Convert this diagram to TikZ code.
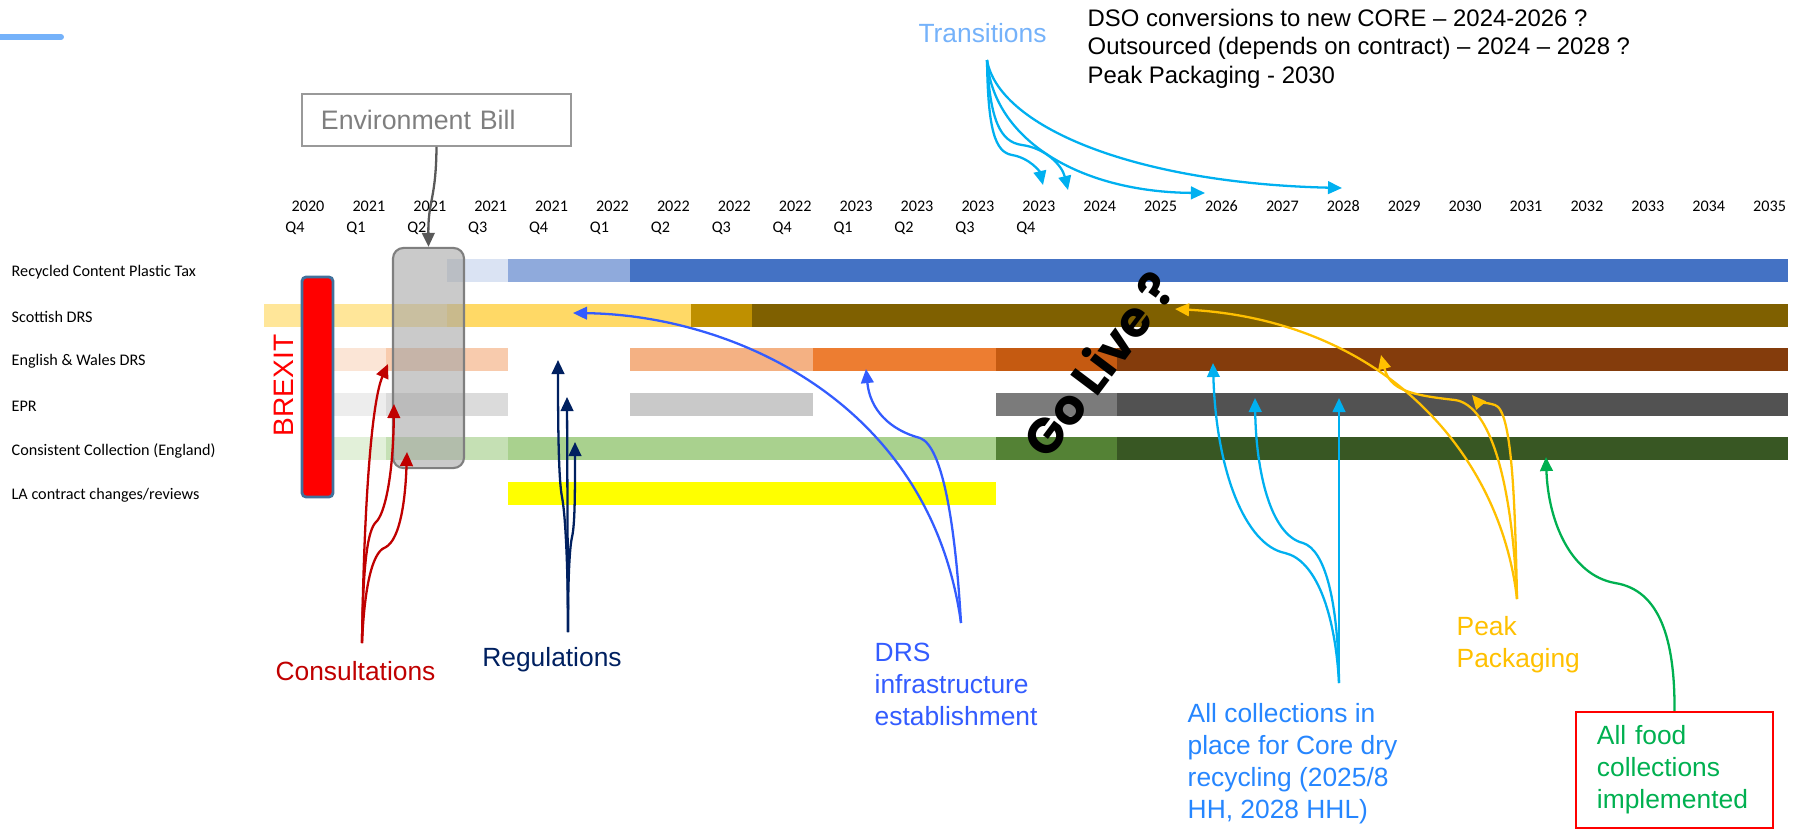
\documentclass[tikz,border=0pt]{standalone}
\usepackage{fontspec}
\setmainfont{Liberation Sans}
\newfontfamily\calibrifont{Carlito}
\newfontfamily\golivefont{Poppins}
\usetikzlibrary{arrows.meta}

\definecolor{transblue}{RGB}{117,178,250}
\definecolor{consred}{HTML}{C00000}
\definecolor{regnavy}{HTML}{002060}
\definecolor{drsblue}{RGB}{51,92,255}
\definecolor{collblue}{RGB}{38,134,255}
\definecolor{cyanarr}{HTML}{00B0F0}
\definecolor{peakgold}{HTML}{FFC000}
\definecolor{foodgreen}{HTML}{00B050}
\definecolor{envgrey}{HTML}{7F7F7F}
\definecolor{arrgrey}{HTML}{595959}
\definecolor{holdgrey}{HTML}{A6A6A6}
\definecolor{brexborder}{HTML}{41719C}
% bar colours, one set per row
\definecolor{rtaxA}{HTML}{DAE3F3}\definecolor{rtaxB}{HTML}{8FAADC}\definecolor{rtaxC}{HTML}{4472C4}
\definecolor{sdrsA}{HTML}{FFE699}\definecolor{sdrsB}{HTML}{FFD966}\definecolor{sdrsC}{HTML}{BF9000}\definecolor{sdrsD}{HTML}{7F6000}
\definecolor{edrsA}{HTML}{FBE5D6}\definecolor{edrsB}{HTML}{F8CBAD}\definecolor{edrsC}{HTML}{F4B183}
\definecolor{edrsD}{HTML}{ED7D31}\definecolor{edrsE}{HTML}{C55A11}\definecolor{edrsF}{HTML}{843C0C}
\definecolor{eprA}{HTML}{EDEDED}\definecolor{eprB}{HTML}{DBDBDB}\definecolor{eprC}{HTML}{C9C9C9}
\definecolor{eprD}{HTML}{7B7B7B}\definecolor{eprE}{HTML}{525252}
\definecolor{cceA}{HTML}{E2F0D9}\definecolor{cceB}{HTML}{C5E0B4}\definecolor{cceC}{HTML}{A9D18E}
\definecolor{cceD}{HTML}{548235}\definecolor{cceE}{HTML}{385723}
\definecolor{lacA}{HTML}{FFFF00}

\begin{document}
\begin{tikzpicture}[x=0.01cm,y=-0.01cm,>={Triangle[length=4pt,width=3.6pt]},
    row label/.style={anchor=west,inner sep=0pt,font=\calibrifont\fontsize{4.6}{5.5}\selectfont},
    axis label/.style={inner sep=0pt,font=\calibrifont\fontsize{4.6}{5.5}\selectfont},
    call out/.style={inner sep=0pt,align=left,font=\fontsize{7.5}{9.1}\selectfont},
    link/.style={->,line width=0.65pt}]

  \useasboundingbox (0,0) rectangle (1806,833);

  \draw[transblue,line width=1.7pt,line cap=round] (-10,37) -- (61,37);

  % time axis
  \foreach \yr [count=\i from 0] in {2020,2021,2021,2021,2021,2022,2022,2022,2022,2023,2023,2023,2023,
      2024,2025,2026,2027,2028,2029,2030,2031,2032,2033,2034,2035}
    \node[axis label] (yr\i) at ({308+60.9*\i},206) {\yr};
  \foreach \qu [count=\i from 0] in {Q4,Q1,Q2,Q3,Q4,Q1,Q2,Q3,Q4,Q1,Q2,Q3,Q4}
    \node[axis label] (q\i) at ({295+60.9*\i},228) {\qu};

  % rows
  \foreach \txt [count=\r] in {Recycled Content Plastic Tax,Scottish DRS,English \& Wales DRS,EPR,
      Consistent Collection (England),LA contract changes/reviews}
    \node[row label] (row\r) at (11,{272.5+44.6*(\r-1)}) {\txt};

  \foreach \r/\a/\b/\c in {1/0/1/rtaxA,1/1/3/rtaxB,1/3/22/rtaxC,
      2/-3/0/sdrsA,2/0/4/sdrsB,2/4/5/sdrsC,2/5/22/sdrsD,
      3/-2/-1/edrsA,3/-1/1/edrsB,3/3/6/edrsC,3/6/9/edrsD,3/9/11/edrsE,3/11/22/edrsF,
      4/-2/-1/eprA,4/-1/1/eprB,4/3/6/eprC,4/9/11/eprD,4/11/22/eprE,
      5/-2/-1/cceA,5/-1/1/cceB,5/1/9/cceC,5/9/11/cceD,5/11/22/cceE,
      6/1/9/lacA}
    \fill[\c] ({447+60.95*\a},{259+44.6*(\r-1)}) rectangle ({447+60.95*\b},{282+44.6*(\r-1)});

  \node[draw=brexborder,fill=red,line width=0.8pt,rounded corners=1.2pt,inner sep=0pt,
    minimum width=0.31cm,minimum height=2.2cm] (brexit) at (317.5,387) {};
  \node[red,rotate=90,inner sep=0pt,font=\fontsize{8}{9.6}\selectfont] (brexitlab) at (283.5,385.5) {BREXIT};

  \node[draw=envgrey,line width=0.6pt,fill=holdgrey,fill opacity=0.6,rounded corners=3pt,inner sep=0pt,
    minimum width=0.71cm,minimum height=2.2cm] (hold) at (428.5,358) {};

  \node[draw=envgrey!80,line width=0.5pt,text=envgrey,font=\fontsize{7.6}{9}\selectfont,align=left,
    minimum width=2.69cm,minimum height=0.52cm,text width=2.31cm,inner xsep=0.19cm] (envbill) at (436.5,120) {Environment Bill};
  \draw[link,arrgrey] (envbill.south) .. controls (436,200) and (428,200) .. (hold.north);

  % transitions
  \node[call out,transblue] (trans) at (982.5,33) {Transitions};
  \node[inner sep=0pt,anchor=north west,align=left,font=\fontsize{6.8}{8.1}\selectfont] (note) at (1087,8)
    {DSO conversions to new CORE – 2024-2026 ?\\Outsourced (depends on contract) – 2024 – 2028 ?\\Peak Packaging - 2030};
  \coordinate (tr0) at (987,60);
  \coordinate (trA) at (1043,185);
  \coordinate (trB) at (1068,190);
  \coordinate (trC) at (1205,193);
  \coordinate (trD) at (1342,188);
  \draw[link,cyanarr] (tr0) .. controls (988,130) and (995,152) .. (1012,155) .. controls (1030,158) and (1040,172) .. (trA);
  \draw[link,cyanarr] (tr0) .. controls (990,120) and (1000,142) .. (1022,145) .. controls (1045,148) and (1062,165) .. (trB);
  \draw[link,cyanarr] (tr0) .. controls (993,140) and (1080,192) .. (trC);
  \draw[link,cyanarr] (tr0) .. controls (998,125) and (1130,183) .. (trD);

  \node[rotate=53,inner sep=0pt,font=\golivefont\bfseries\fontsize{14}{16}\selectfont] (golive) at (1098,364) {Go Live ?};

  % consultations
  \node[call out,consred] (cons) at (355.5,671) {Consultations};
  \coordinate (cs0) at (362,643);
  \coordinate (csA) at (388,364);
  \coordinate (csB) at (394,404);
  \coordinate (csC) at (407,452);
  \draw[link,consred] (cs0) .. controls (364,500) and (372,400) .. (csA);
  \draw[link,consred] (cs0) .. controls (363,560) and (368,530) .. (376,522) .. controls (384,515) and (393,480) .. (csB);
  \draw[link,consred] (cs0) .. controls (365,575) and (375,550) .. (386,547) .. controls (398,540) and (405,510) .. (csC);

  % regulations
  \node[call out,regnavy] (regs) at (552,660) {Regulations};
  \coordinate (rg0) at (568,632);
  \coordinate (rgA) at (558,360);
  \coordinate (rgB) at (567,397);
  \coordinate (rgC) at (575,442);
  \draw[link,regnavy] (rg0) .. controls (568,560) and (565,512) .. (562,497) .. controls (559,482) and (558,440) .. (rgA);
  \draw[link,regnavy] (rg0) -- (rgB);
  \draw[link,regnavy] (rg0) .. controls (568,570) and (570,546) .. (572,537) .. controls (575,525) and (575,490) .. (rgC);

  % DRS infrastructure
  \node[call out,drsblue,anchor=west] (drs) at (874,684) {DRS\\infrastructure\\establishment};
  \coordinate (ds0) at (961,623);
  \coordinate (dsA) at (573,313);
  \coordinate (dsB) at (866,369);
  \draw[link,drsblue] (ds0) .. controls (930,400) and (730,315) .. (dsA);
  \draw[link,drsblue] (ds0) .. controls (955,520) and (942,446) .. (920,438) .. controls (890,430) and (870,410) .. (dsB);

  % core dry recycling
  \node[call out,collblue,anchor=west] (coll) at (1187,764) {All collections in\\place for Core dry\\recycling (2025/8\\HH, 2028 HHL)};
  \coordinate (ac0) at (1339,683);
  \coordinate (acA) at (1213,363);
  \coordinate (acB) at (1255,398);
  \coordinate (acC) at (1339,398);
  \draw[link,cyanarr] (ac0) .. controls (1335,610) and (1315,560) .. (1285,553) .. controls (1245,545) and (1216,470) .. (acA);
  \draw[link,cyanarr] (ac0) .. controls (1338,600) and (1325,550) .. (1303,543) .. controls (1270,535) and (1256,470) .. (acB);
  \draw[link,cyanarr] (ac0) -- (acC);

  % peak packaging
  \node[call out,peakgold,anchor=west] (peak) at (1456,645) {Peak\\Packaging};
  \coordinate (pk0) at (1517,599);
  \coordinate (pkA) at (1175,309);
  \coordinate (pkB) at (1381,355);
  \coordinate (pkC) at (1472,395);
  \draw[link,peakgold] (pk0) .. controls (1500,450) and (1380,320) .. (pkA);
  \draw[link,peakgold] (pk0) .. controls (1512,480) and (1490,405) .. (1455,400) .. controls (1410,395) and (1390,390) .. (pkB);
  \draw[link,peakgold] (pk0) .. controls (1515,500) and (1512,410) .. (1495,405) .. controls (1485,402) and (1478,402) .. (pkC);

  % food collections
  \node[call out,draw=red,line width=0.6pt,text=foodgreen,minimum width=1.97cm,minimum height=1.16cm,
    text width=1.55cm,inner xsep=0.21cm] (food) at (1674.5,770) {All food\\collections\\implemented};
  \coordinate (fdA) at (1546,457);
  \draw[link,foodgreen] (food.north) .. controls (1675,640) and (1660,590) .. (1615,583) .. controls (1570,575) and (1548,520) .. (fdA);

\end{tikzpicture}
\end{document}
